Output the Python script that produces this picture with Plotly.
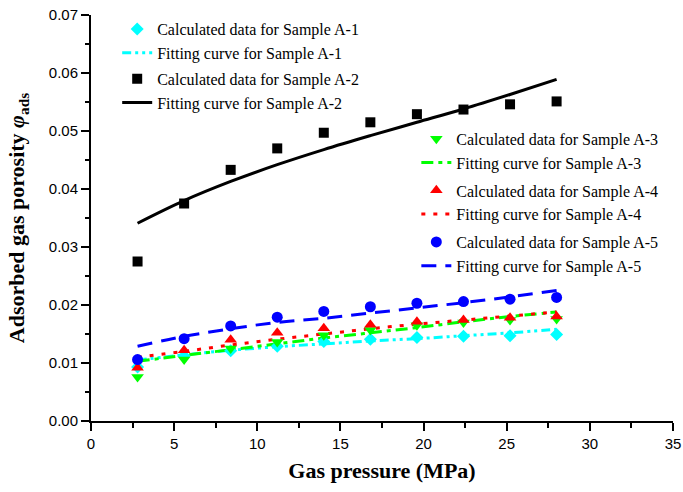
import plotly.graph_objects as go

pressure = [2.8, 5.6, 8.4, 11.2, 14.0, 16.8, 19.6, 22.4, 25.2, 28.0]

calc_a1 = [0.0093, 0.0112, 0.0121, 0.0129, 0.0137, 0.0141, 0.0144, 0.0146, 0.0147, 0.0149]
calc_a2 = [0.0275, 0.0375, 0.0433, 0.0470, 0.0497, 0.0515, 0.0529, 0.0537, 0.0546, 0.0551]
calc_a3 = [0.0076, 0.0106, 0.0125, 0.0136, 0.0148, 0.0157, 0.0165, 0.0170, 0.0174, 0.0176]
calc_a4 = [0.0092, 0.0122, 0.0140, 0.0152, 0.0160, 0.0166, 0.0171, 0.0174, 0.0178, 0.0180]
calc_a5 = [0.0106, 0.0142, 0.0164, 0.0179, 0.0189, 0.0197, 0.0203, 0.0206, 0.0210, 0.0213]

fit_a1 = [0.0105, 0.0114, 0.0122, 0.0128, 0.0133, 0.0138, 0.0142, 0.0147, 0.0152, 0.0158]
fit_a2 = [0.0341, 0.0380, 0.0413, 0.0442, 0.0468, 0.0492, 0.0515, 0.0538, 0.0563, 0.0589]
fit_a3 = [0.0103, 0.0113, 0.0123, 0.0133, 0.0143, 0.0152, 0.0161, 0.0171, 0.0180, 0.0188]
fit_a4 = [0.0110, 0.0120, 0.0131, 0.0141, 0.0150, 0.0159, 0.0167, 0.0174, 0.0181, 0.0188]
fit_a5 = [0.0129, 0.0146, 0.0159, 0.0170, 0.0177, 0.0186, 0.0195, 0.0204, 0.0214, 0.0225]

samples = ["A-1", "A-2", "A-3", "A-4", "A-5"]
colors = ["#00FFFF", "#000000", "#00FF00", "#FF0000", "#0000FF"]
symbols = ["diamond", "square", "triangle-down", "triangle-up", "circle"]
msizes = [10, 10, 11, 11, 11]
dashes = ["9px,4px,3px,4px,3px,4px", "solid", "12px,5px,4px,5px", "4px,8px", "15px,9px"]
legends = ["legend", "legend", "legend2", "legend2", "legend2"]

calcs = [calc_a1, calc_a2, calc_a3, calc_a4, calc_a5]
fits = [fit_a1, fit_a2, fit_a3, fit_a4, fit_a5]

fig = go.Figure()
for i, s in enumerate(samples):
    fig.add_trace(go.Scatter(
        x=pressure, y=fits[i], mode="lines",
        line=dict(color=colors[i], width=3, dash=dashes[i], shape="spline"),
        showlegend=False, legendgroup=s, legend=legends[i],
    ))
for i, s in enumerate(samples):
    fig.add_trace(go.Scatter(
        x=pressure, y=calcs[i], mode="markers",
        marker=dict(color=colors[i], symbol=symbols[i], size=msizes[i], line=dict(width=0)),
        name="Calculated data for Sample " + s, legendgroup=s, legend=legends[i],
    ))
    fig.add_trace(go.Scatter(
        x=[None], y=[None], mode="lines",
        line=dict(color=colors[i], width=3, dash=dashes[i]),
        name="Fitting curve for Sample " + s, legendgroup=s, legend=legends[i],
    ))

legend_font = dict(family="Liberation Serif, Times New Roman, serif", size=16, color="black")
fig.update_layout(
    width=683, height=492,
    margin=dict(l=91, r=10, t=15, b=71),
    paper_bgcolor="white", plot_bgcolor="white",
    showlegend=True,
    legend=dict(x=0.045, y=1.007, xanchor="left", yanchor="top", font=legend_font,
                bgcolor="rgba(0,0,0,0)", traceorder="grouped", tracegroupgap=2),
    legend2=dict(x=0.559, y=0.737, xanchor="left", yanchor="top", font=legend_font,
                 bgcolor="rgba(0,0,0,0)", traceorder="grouped", tracegroupgap=4),
    xaxis=dict(
        range=[0, 35], dtick=5, tick0=0, showgrid=False, zeroline=False, automargin=False,
        ticklabeloverflow="allow",
        showline=True, linecolor="black", linewidth=2,
        ticks="outside", ticklen=8, tickwidth=2, tickcolor="black",
        minor=dict(dtick=2.5, ticks="outside", ticklen=5, tickwidth=2, tickcolor="black", showgrid=False),
        tickfont=dict(family="Liberation Sans, Arial, sans-serif", size=15, color="black"),
        title=dict(text="<b>Gas pressure (MPa)</b>", standoff=12,
                   font=dict(family="Liberation Serif, Times New Roman, serif", size=22, color="black")),
    ),
    yaxis=dict(
        range=[0, 0.07], dtick=0.01, tick0=0, tickformat=".2f", showgrid=False, zeroline=False,
        automargin=False,
        showline=True, linecolor="black", linewidth=2,
        ticks="outside", ticklen=8, tickwidth=2, tickcolor="black",
        minor=dict(dtick=0.005, ticks="outside", ticklen=4, tickwidth=2, tickcolor="black", showgrid=False),
        tickfont=dict(family="Liberation Sans, Arial, sans-serif", size=15, color="black"),
        title=dict(text="<b>Adsorbed gas porosity <i>φ</i><sub>ads</sub></b>", standoff=18,
                   font=dict(family="Liberation Serif, Times New Roman, serif", size=22, color="black")),
    ),
)

fig.write_html("out.html")
